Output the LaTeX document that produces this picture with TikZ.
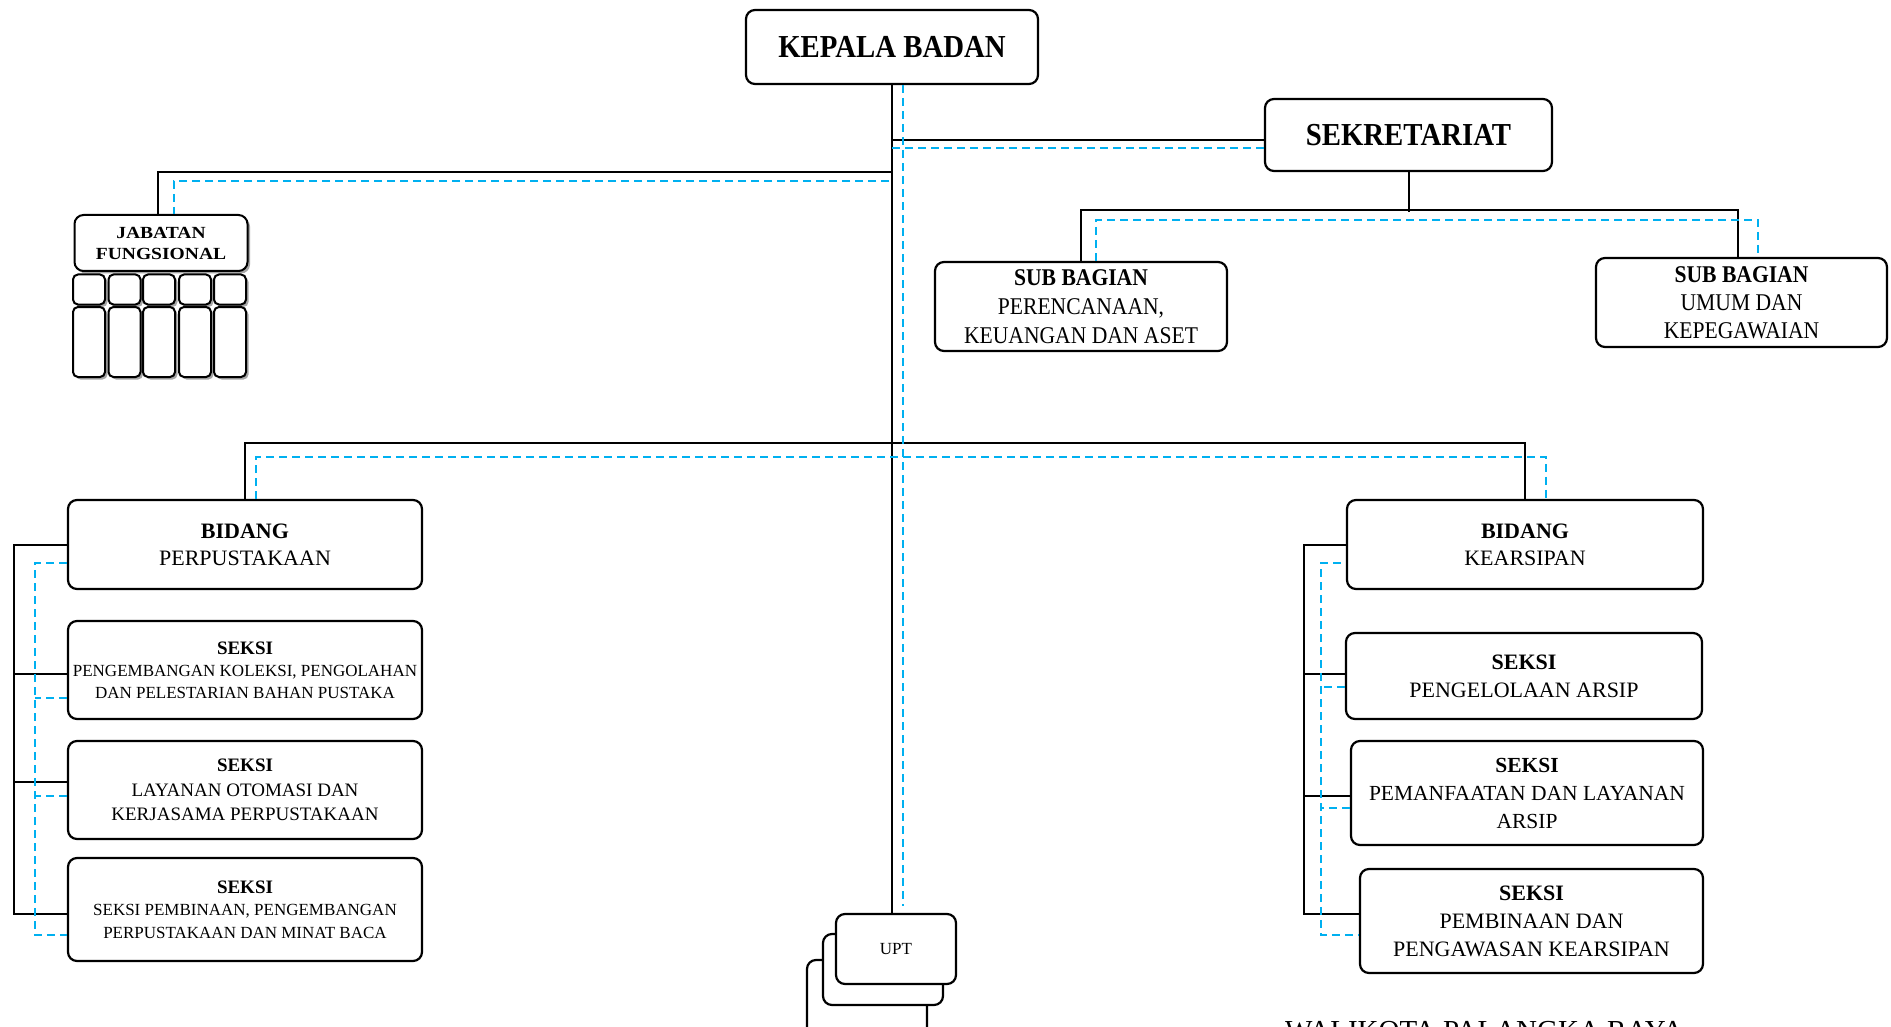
\documentclass[tikz,border=0pt]{standalone}
\usepackage{fontspec}
\setmainfont{Liberation Serif}
\newfontfamily\condf[FakeStretch=0.9]{Liberation Serif}
\newfontfamily\widef[FakeStretch=1.15]{Liberation Serif}
\usetikzlibrary{shadows,calc}
\definecolor{dblue}{RGB}{0,176,240}
\begin{document}
\begin{tikzpicture}[x=1pt,y=-1pt,
 box/.style={draw, line width=2.2pt, rounded corners=9pt, fill=white, align=center, inner sep=0pt},
 cell/.style={draw, line width=2pt, rounded corners=5pt, fill=white, inner sep=0pt, minimum width=32pt,
   drop shadow={shadow xshift=2.5pt, shadow yshift=-2.5pt, fill=black!35, opacity=1}},
 sol/.style={line width=2pt, black},
 dsh/.style={line width=2pt, draw=dblue, dash pattern=on 8pt off 5pt}]
\fill[white] (0,0) rectangle (1891,1027);
\useasboundingbox (0,0) rectangle (1891,1027);

% top
\node[box, minimum width=292pt, minimum height=74pt, font=\condf\fontsize{32}{36}\selectfont\bfseries] (kb) at (892,47)
  {KEPALA BADAN};
\node[box, minimum width=287pt, minimum height=72pt, font=\condf\fontsize{32}{36}\selectfont\bfseries] (sek) at (1408.5,135)
  {SEKRETARIAT};
\node[box, minimum width=292pt, minimum height=89pt, font=\condf\fontsize{24}{29}\selectfont] (sba) at (1081,306.5)
  {\textbf{SUB BAGIAN}\\PERENCANAAN,\\KEUANGAN DAN ASET};
\node[box, minimum width=291pt, minimum height=89pt, font=\condf\fontsize{24}{28}\selectfont] (sbb) at (1741.5,302.5)
  {\textbf{SUB BAGIAN}\\UMUM DAN\\KEPEGAWAIAN};

% jabatan fungsional
\node[cell, rounded corners=9pt, minimum width=173pt, minimum height=56pt, align=center,
  font=\widef\fontsize{17}{21}\selectfont\bfseries] (jab) at (161,243)
  {JABATAN\\FUNGSIONAL};
\foreach \cx [count=\i] in {89,124.5,159,195,230}{
  \node[cell, minimum height=30pt] (js\i) at (\cx,289.5) {};
  \node[cell, minimum height=70pt] (jt\i) at (\cx,342) {};
}

% bidang perpustakaan
\node[box, minimum width=354pt, minimum height=89pt, font=\fontsize{22}{27}\selectfont] (bp) at (245,544.5)
  {\textbf{BIDANG}\\PERPUSTAKAAN};
\node[box, minimum width=354pt, minimum height=98pt, font=\fontsize{17}{22}\selectfont] (sp1) at (245,670)
  {{\fontsize{19}{22}\selectfont\bfseries SEKSI}\\PENGEMBANGAN KOLEKSI, PENGOLAHAN\\DAN PELESTARIAN BAHAN PUSTAKA};
\node[box, minimum width=354pt, minimum height=98pt, font=\fontsize{19}{24.5}\selectfont] (sp2) at (245,790)
  {\textbf{SEKSI}\\LAYANAN OTOMASI DAN\\KERJASAMA PERPUSTAKAAN};
\node[box, minimum width=354pt, minimum height=103pt, font=\fontsize{17}{22.5}\selectfont] (sp3) at (245,909.5)
  {{\fontsize{19}{22.5}\selectfont\bfseries SEKSI}\\SEKSI PEMBINAAN, PENGEMBANGAN\\PERPUSTAKAAN DAN MINAT BACA};

% bidang kearsipan
\node[box, minimum width=356pt, minimum height=89pt, font=\fontsize{22}{27}\selectfont] (bk) at (1525,544.5)
  {\textbf{BIDANG}\\KEARSIPAN};
\node[box, minimum width=356pt, minimum height=86pt, font=\fontsize{22}{28}\selectfont] (sk1) at (1524,676)
  {\textbf{SEKSI}\\PENGELOLAAN ARSIP};
\node[box, minimum width=352pt, minimum height=104pt, font=\fontsize{21.5}{28}\selectfont] (sk2) at (1527,793)
  {\textbf{SEKSI}\\PEMANFAATAN DAN LAYANAN\\ARSIP};
\node[box, minimum width=343pt, minimum height=104pt, font=\fontsize{22}{28}\selectfont] (sk3) at (1531.5,921)
  {\textbf{SEKSI}\\PEMBINAAN DAN\\PENGAWASAN KEARSIPAN};

% UPT
\node[box, minimum width=120pt, minimum height=80pt] (uptc) at (867,1000) {};
\node[box, minimum width=120pt, minimum height=71pt] (uptb) at (883,969.5) {};
\node[box, minimum width=120pt, minimum height=70pt, font=\fontsize{17}{20}\selectfont] (upt) at (896,949)
  {UPT};

% walikota (cut by the lower edge, as in the reference)
\node[anchor=base west, inner sep=0pt, font=\fontsize{29}{34}\selectfont] (wk) at (1285,1040)
  {WALIKOTA PALANGKA RAYA};

% ---- solid connectors
\draw[sol] (kb.south) -- (kb.south |- upt.north);
\draw[sol] ([yshift=-5pt]sek.west) -- ([yshift=-5pt]sek.west -| kb.south);
\coordinate (tJ) at (892,172);
\draw[sol] (tJ) -| ([xshift=-3pt]jab.north);
\draw[sol] (sek.south) -- ++(0,40);
\draw[sol] (sba.north) -- ++(0,-51) -| ([xshift=-4pt]sbb.north);
\draw[sol] (bp.north) -- ++(0,-56) -| (bk.north);
\draw[sol] (bp.west) -- ++(-53,0) |- ([yshift=-4.5pt]sp3.west);
\draw[sol] ([yshift=-4pt]sp1.west) -- ++(-53,0);
\draw[sol] ([yshift=8pt]sp2.west) -- ++(-53,0);
\draw[sol] (bk.west) -- ++(-42,0) |- ([yshift=7pt]sk3.west);
\draw[sol] ([yshift=2pt]sk1.west) -- ++(-41,0);
\draw[sol] ([yshift=-3pt]sk2.west) -- ++(-46,0);

% ---- dashed connectors
\draw[dsh, shorten >=7pt] ([xshift=11pt]kb.south) -- ([xshift=11pt]kb.south |- upt.north);
\draw[dsh] ([yshift=-13pt]sek.west) -- ([yshift=-13pt]sek.west -| kb.south);
\coordinate (tJd) at (889,181);
\draw[dsh] (tJd) -| ([xshift=13pt]jab.north);
\draw[dsh] ([xshift=15pt]sba.north) -- ++(0,-41) -| ([xshift=16.5pt]sbb.north);
\draw[dsh] ([xshift=11pt]bp.north) -- ++(0,-42) -| ([xshift=21pt]bk.north);
\draw[dsh] ([yshift=-18.5pt]bp.west) -- ++(-32,0) |- ([yshift=-25.5pt]sp3.west);
\draw[dsh] ([yshift=-28pt]sp1.west) -- ++(-32,0);
\draw[dsh] ([yshift=-6pt]sp2.west) -- ++(-32,0);
\draw[dsh] ([xshift=-5pt,yshift=-18.5pt]bk.west) -- ++(-20,0) |- ([yshift=-14pt]sk3.west);
\draw[dsh] ([yshift=-11pt]sk1.west) -- ++(-24,0);
\draw[dsh] ([yshift=-15pt]sk2.west) -- ++(-29,0);
\end{tikzpicture}
\end{document}
